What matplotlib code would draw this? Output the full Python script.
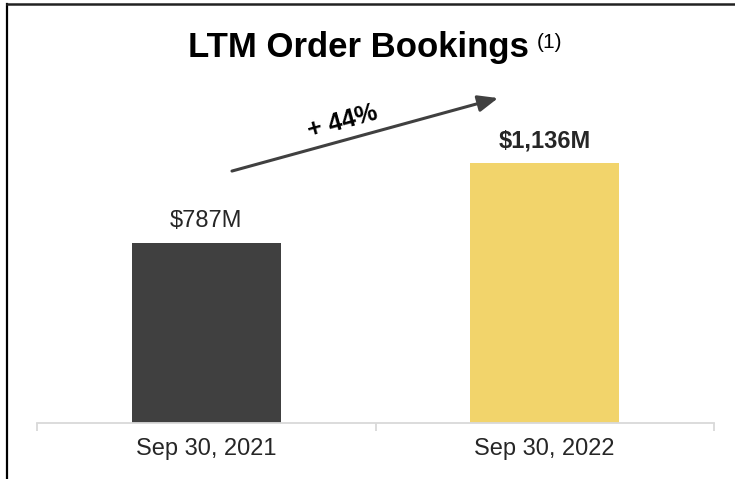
import matplotlib
matplotlib.use("Agg")
import matplotlib.pyplot as plt
from matplotlib.lines import Line2D

plt.rcParams['font.family'] = ['Liberation Sans', 'DejaVu Sans']

categories = ["Sep 30, 2021", "Sep 30, 2022"]
values = [787, 1136]
value_labels = ["$787M", "$1,136M"]
bar_colors = ["#404040", "#F2D46B"]
growth_label = "+ 44%"
title = "LTM Order Bookings"
footnote = "(1)"

W, H = 735, 479
fig = plt.figure(figsize=(W / 100, H / 100), dpi=100)
fig.patch.set_facecolor("white")

ax_left, ax_right, ax_bottom, ax_top = 37, 714, 423, 70
ax = fig.add_axes([ax_left / W, (H - ax_bottom) / H,
                   (ax_right - ax_left) / W, (ax_bottom - ax_top) / H])
ax.set_xlim(-0.5, 1.5)
ax.set_ylim(0, (ax_bottom - ax_top) * 4.37)

x = list(range(len(categories)))
ax.bar(x, values, width=0.44, color=bar_colors, zorder=2)

for xi, v, lab, bold in zip(x, values, value_labels, [False, True]):
    ax.annotate(lab, (xi, v), xytext=(0, 11.5), textcoords="offset points",
                ha="center", va="baseline", fontsize=17,
                fontweight="bold" if bold else "normal", color="#262626")

for s in ["left", "right", "top"]:
    ax.spines[s].set_visible(False)
ax.spines["bottom"].set_color("#d9d9d9")
ax.spines["bottom"].set_linewidth(1.3)
ax.set_yticks([])
ax.set_xticks(x)
ax.set_xticklabels(categories, fontsize=17, color="#262626")
ax.tick_params(axis="x", which="major", length=0, pad=11)
ax.set_xticks([-0.5, 0.5, 1.5], minor=True)
ax.tick_params(axis="x", which="minor", length=5.5, width=1.3, color="#d9d9d9", direction="out")

# growth arrow
ax.annotate("", xy=(0.862, 1420), xytext=(0.076, 1101),
            arrowprops=dict(arrowstyle="-|>,head_length=1.2,head_width=0.5",
                            color="#404040", lw=2.2, shrinkA=0, shrinkB=0))
ax.text(0.404, 1315, growth_label, rotation=15.5, rotation_mode="anchor",
        ha="center", va="center", fontsize=18, fontweight="bold", color="black")

# title
fig.text(188 / W, 1 - 57.5 / H, title, ha="left", va="baseline",
         fontsize=25, fontweight="bold", color="black")
fig.text(537 / W, 1 - 47.5 / H, footnote, ha="left", va="baseline",
         fontsize=15, color="black")

# border lines
fig.add_artist(Line2D([7 / W, 7 / W], [0, 1 - 4 / H], color="black", lw=1.6,
                      transform=fig.transFigure))
fig.add_artist(Line2D([7 / W, 1], [1 - 4 / H, 1 - 4 / H], color="#222222", lw=1.8,
                      transform=fig.transFigure))

fig.savefig("out.png", dpi=100)
